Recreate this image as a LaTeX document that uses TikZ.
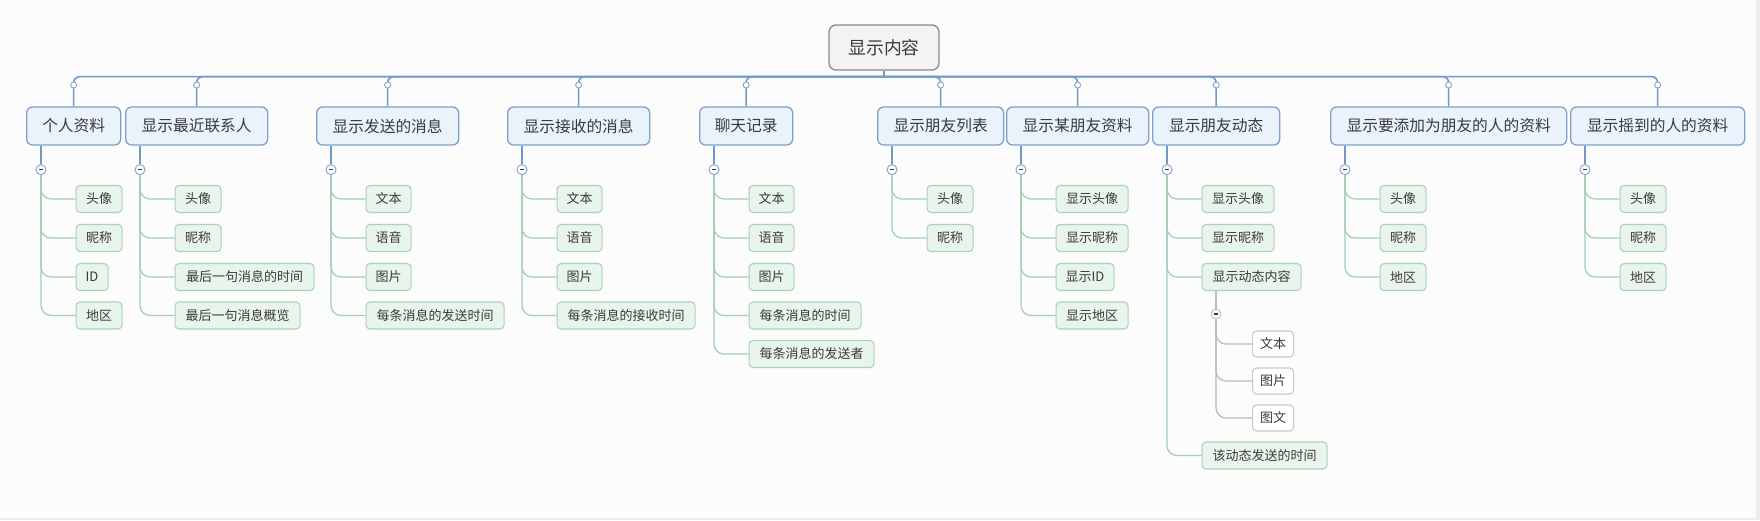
\documentclass[tikz,border=0pt]{standalone}
\usepackage{fontspec}
\setmainfont{Noto Sans CJK SC}
\usetikzlibrary{calc}
\definecolor{bgc}{HTML}{FCFCFC}
\definecolor{edgec}{HTML}{ECECEC}
\definecolor{txtc}{HTML}{3A3A3A}
\definecolor{busc}{HTML}{7098CA}
\definecolor{hfill}{HTML}{EAF2FB}
\definecolor{hdraw}{HTML}{7FA0CA}
\definecolor{rfill}{HTML}{F3F3F3}
\definecolor{rdraw}{HTML}{8A8A8A}
\definecolor{kfill}{HTML}{E9F4EC}
\definecolor{kdraw}{HTML}{A9D4B5}
\definecolor{glinec}{HTML}{A2CFAF}
\definecolor{gboxc}{HTML}{C8C8C8}
\definecolor{glc}{HTML}{BBBBBB}
\definecolor{knobc}{HTML}{8FA8CC}
\tikzset{
  rootbox/.style={draw=rdraw,fill=rfill,line width=1.3pt,rounded corners=7pt,minimum height=45pt,minimum width=110pt,text=txtc,font=\fontsize{17.8pt}{20pt}\selectfont,inner sep=0pt},
  hbox/.style={draw=hdraw,fill=hfill,line width=1.3pt,rounded corners=6pt,minimum height=38pt,text=txtc,font=\fontsize{15.7pt}{18pt}\selectfont,inner sep=0pt,anchor=west},
  kidbox/.style={draw=kdraw,fill=kfill,line width=1.1pt,rounded corners=4pt,minimum height=27pt,text=txtc,font=\fontsize{13pt}{15pt}\selectfont,inner sep=0pt,anchor=west},
  graybox/.style={draw=gboxc,fill=white,line width=1.1pt,rounded corners=4pt,minimum height=26pt,minimum width=41pt,text=txtc,font=\fontsize{13pt}{15pt}\selectfont,inner sep=0pt,anchor=west},
  bus/.style={draw=busc,line width=1.6pt,rounded corners=6pt},
  gline/.style={draw=glinec,line width=1.2pt,rounded corners=10pt},
  grayline/.style={draw=glc,line width=1.2pt,rounded corners=10pt},
  knob/.style={circle,draw=knobc,fill=white,line width=1pt,minimum size=6pt,inner sep=0pt},
  coll/.style={circle,draw=knobc,fill=white,line width=1pt,minimum size=10pt,inner sep=0pt,
    path picture={\draw[line width=1.1pt,txtc] ($(path picture bounding box.center)+(-2.3,0)$) -- ++(4.6,0);}},
  gcoll/.style={coll,draw=glc},
}
\newcommand\kidlist[4]{%
  \foreach \yy/\ww/\tt [count=\j] in {#4} {
    \node[kidbox,minimum width=\ww] (#1-\j) at (#3,\yy) {\tt};
    \draw[gline] (#2.south) |- (#1-\j.west);
  }}
\begin{document}
\begin{tikzpicture}[x=1pt,y=-1pt]
\fill[bgc] (0,0) rectangle (1760,520);
\useasboundingbox (0,0) rectangle (1760,520);
\fill[edgec] (1756,0) rectangle (1760,520);
\fill[edgec] (0,517.5) rectangle (1760,520);

% root
\node[rootbox] (root) at (884,47.5) {显示内容};
\draw[bus] (root.south) -- ++(0,6) coordinate (busc);

% headers
\node[hbox,minimum width=94] (h1) at (26,126) {个人资料};
\node[hbox,minimum width=142] (h2) at (125,126) {显示最近联系人};
\node[hbox,minimum width=142] (h3) at (316,126) {显示发送的消息};
\node[hbox,minimum width=142] (h4) at (507,126) {显示接收的消息};
\node[hbox,minimum width=93] (h5) at (699,126) {聊天记录};
\node[hbox,minimum width=126] (h6) at (877,126) {显示朋友列表};
\node[hbox,minimum width=142] (h7) at (1006,126) {显示某朋友资料};
\node[hbox,minimum width=127] (h8) at (1152,126) {显示朋友动态};
\node[hbox,minimum width=236] (h9) at (1330,126) {显示要添加为朋友的人的资料};
\node[hbox,minimum width=174] (h10) at (1570,126) {显示摇到的人的资料};

\foreach \i in {1,...,10} {
  \draw[bus] (busc) -| (h\i.north);
  \node[knob] (k\i) at (h\i.north |- 0,85) {};
  \node[coll] (c\i) at ($(h\i.south west)+(15,24)$) {};
  \draw[busc,line width=1.6pt] (c\i.north |- h\i.south) -- (c\i.north);
}

% children
\kidlist{a}{c1}{75.5}{199/46/头像, 238/46/昵称, 277/32/ID, 315.5/46/地区}
\kidlist{b}{c2}{174.5}{199/46/头像, 238/46/昵称, 277/139/最后一句消息的时间, 315.5/125/最后一句消息概览}
\kidlist{d}{c3}{365.5}{199/45/文本, 238/45/语音, 277/45/图片, 315.5/138/每条消息的发送时间}
\kidlist{e}{c4}{556.5}{199/45/文本, 238/45/语音, 277/45/图片, 315.5/138/每条消息的接收时间}
\kidlist{f}{c5}{748.5}{199/45/文本, 238/45/语音, 277/45/图片, 315.5/112/每条消息的时间, 354/125/每条消息的发送者}
\kidlist{g}{c6}{926.5}{199/46/头像, 238/46/昵称}
\kidlist{m}{c7}{1055.5}{199/72/显示头像, 238/72/显示昵称, 277/58/显示ID, 315.5/72/显示地区}
\kidlist{n}{c8}{1201.5}{199/72/显示头像, 238/72/显示昵称, 277/99/显示动态内容, 455.5/125/该动态发送的时间}
\kidlist{p}{c9}{1379.5}{199/46/头像, 238/46/昵称, 277/46/地区}
\kidlist{q}{c10}{1619.5}{199/46/头像, 238/46/昵称, 277/46/地区}

% sub-branch of 显示动态内容
\node[gcoll] (cs) at (1216,314) {};
\draw[glc,line width=1.2pt] (cs.north |- n-3.south) -- (cs.north);
\foreach \yy/\tt [count=\j] in {344/文本, 381/图片, 418/图文} {
  \node[graybox] (s-\j) at (1252,\yy) {\tt};
  \draw[grayline] (cs.south) |- (s-\j.west);
}
\end{tikzpicture}
\end{document}
